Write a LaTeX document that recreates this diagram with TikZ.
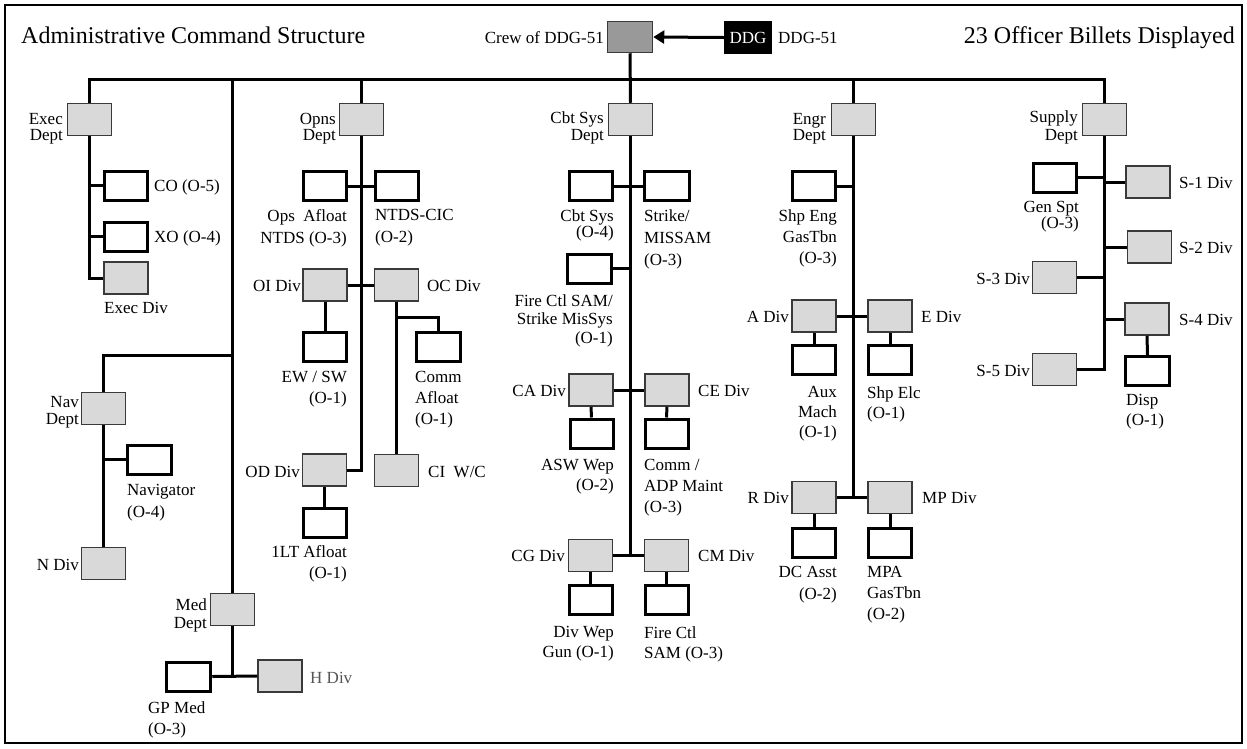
\documentclass[tikz,border=0pt]{standalone}
\usepackage{fontspec}
\setmainfont{Liberation Serif}
\usetikzlibrary{arrows.meta}
\definecolor{gfill}{HTML}{D9D9D9}
\definecolor{gedge}{HTML}{3A3A3A}
\definecolor{crewfill}{HTML}{999999}
\definecolor{hgray}{HTML}{555555}
\begin{document}
\begin{tikzpicture}[x=1pt,y=-1pt,
  gbox/.style={draw=gedge,line width=1.5pt,fill=gfill,minimum width=44pt,minimum height=32pt,inner sep=0pt},
  wbox/.style={draw=black,line width=3pt,fill=white,minimum width=43pt,minimum height=29pt,inner sep=0pt},
  conn/.style={line width=3pt,black,line join=miter},
  lbl/.style={inner sep=0pt,font=\fontsize{17}{#1}\selectfont},
  lbl/.default=19,
  big/.style={inner sep=0pt,font=\fontsize{24}{28}\selectfont}
]
\useasboundingbox (0,0) rectangle (1247,748);
\draw[line width=1.5pt] (5,5) rectangle (1242,743);

% titles
\node[big,anchor=base west] (title) at (21,43) {Administrative Command Structure};
\node[big,anchor=base east] (billets) at (1235,43) {23 Officer Billets Displayed};

% top
\node[draw=gedge,line width=1.5pt,fill=crewfill,minimum width=45pt,minimum height=31pt,inner sep=0pt] (crew) at (630,37) {};
\node[fill=black,minimum width=48pt,minimum height=33pt,inner sep=0pt,text=white,font=\fontsize{17}{19}\selectfont] (ddg) at (748,37.5) {DDG};
\node[lbl,anchor=base east] (crewlbl) at (604,43) {Crew of DDG-51};
\node[lbl,anchor=base west] (ddglbl) at (778,43) {DDG-51};

% departments
\node[gbox] (exec) at (89.5,119.5) {};
\node[gbox] (opns) at (361.5,119.5) {};
\node[gbox] (cbt) at (630.5,119.5) {};
\node[gbox] (engr) at (853.5,119.5) {};
\node[gbox] (supply) at (1104.5,119.5) {};
\node[gbox] (nav) at (103.5,408.5) {};
\node[gbox] (med) at (232.5,609.5) {};
\node[lbl=16,align=right,anchor=north east] (execlbl) at (63,113) {Exec\\Dept};
\node[lbl=16,align=right,anchor=north east] (opnslbl) at (336,113) {Opns\\Dept};
\node[lbl=17,align=right,anchor=north east] (cbtlbl) at (604,111) {Cbt Sys\\Dept};
\node[lbl=16,align=right,anchor=north east] (engrlbl) at (826,113) {Engr\\Dept};
\node[lbl=18,align=right,anchor=north east] (supplylbl) at (1078,110) {Supply\\Dept};
\node[lbl=17,align=right,anchor=north east] (navlbl) at (79,396) {Nav\\Dept};
\node[lbl=18,align=right,anchor=north east] (medlbl) at (207,598) {Med\\Dept};

% Exec
\node[wbox] (co) at (125.5,185.5) {};
\node[wbox] (xo) at (125.5,236.5) {};
\node[gbox] (execdiv) at (126,278) {};
\node[lbl,anchor=base west] (colbl) at (154,191) {CO (O-5)};
\node[lbl,anchor=base west] (xolbl) at (154,242) {XO (O-4)};
\node[lbl,anchor=base west] (execdivlbl) at (104,313) {Exec Div};

% Nav
\node[wbox,minimum width=44.5pt] (navigator) at (149.5,459.5) {};
\node[gbox] (ndiv) at (103.5,563.5) {};
\node[lbl=22,align=left,anchor=north west] (navigatorlbl) at (127,484) {Navigator\\(O-4)};
\node[lbl,anchor=base east] (ndivlbl) at (79,570) {N Div};

% Med
\node[wbox,minimum width=44.5pt] (gpmed) at (188.5,676.5) {};
\node[gbox] (hdiv) at (280,676) {};
\node[lbl=21,align=left,anchor=north west] (gpmedlbl) at (148,701) {GP Med\\(O-3)};
\node[lbl,anchor=base west,text=hgray] (hdivlbl) at (310,683) {H Div};

% Opns
\node[wbox] (opsafloat) at (324.5,186) {};
\node[wbox] (ntds) at (396.5,186) {};
\node[gbox] (oidiv) at (325,285) {};
\node[gbox] (ocdiv) at (396.5,285) {};
\node[wbox] (ewsw) at (325,346.5) {};
\node[wbox,minimum width=44.5pt] (commafloat) at (438.5,346.5) {};
\node[gbox] (ciwc) at (396.5,470.5) {};
\node[gbox] (oddiv) at (324.5,470) {};
\node[wbox] (onelt) at (324.5,522.5) {};
\node[lbl=22,align=right,anchor=north east] (opsafloatlbl) at (347,209) {Ops\ \ Afloat\\NTDS (O-3)};
\node[lbl=22,align=left,anchor=north west] (ntdslbl) at (375,209) {NTDS-CIC\\(O-2)};
\node[lbl,anchor=base east] (oidivlbl) at (301,291) {OI Div};
\node[lbl,anchor=base west] (ocdivlbl) at (427,291) {OC Div};
\node[lbl=21,align=right,anchor=north east] (ewswlbl) at (347,371) {EW / SW\\(O-1)};
\node[lbl=21,align=left,anchor=north west] (commafloatlbl) at (415,371) {Comm\\Afloat\\(O-1)};
\node[lbl,anchor=base west] (ciwclbl) at (428,477) {CI\ \ W/C};
\node[lbl,anchor=base east] (oddivlbl) at (300,477) {OD Div};
\node[lbl=21,align=right,anchor=north east] (oneltlbl) at (347,545) {1LT Afloat\\(O-1)};

% Cbt Sys
\node[wbox] (cbtsys) at (591,186) {};
\node[wbox,minimum width=44.5pt] (strike) at (667,186) {};
\node[wbox,minimum width=44pt] (firectl) at (589.5,268.5) {};
\node[gbox] (cadiv) at (591,390) {};
\node[gbox] (cediv) at (667,390) {};
\node[wbox] (aswwep) at (591.5,433.5) {};
\node[wbox] (commadp) at (666.5,433.5) {};
\node[gbox] (cgdiv) at (590.5,555.5) {};
\node[gbox] (cmdiv) at (666.5,555.5) {};
\node[wbox] (divwep) at (590.5,600) {};
\node[wbox] (firesam) at (666.5,600) {};
\node[lbl=15,align=right,anchor=north east] (cbtsyslbl) at (614,209) {Cbt Sys\\(O-4)};
\node[lbl=22,align=left,anchor=north west] (strikelbl) at (644,209) {Strike/\\MISSAM\\(O-3)};
\node[lbl=18.5,align=right,anchor=north east] (firectllbl) at (613,294) {Fire Ctl SAM/\\Strike MisSys\\(O-1)};
\node[lbl,anchor=base east] (cadivlbl) at (566,396) {CA Div};
\node[lbl,anchor=base west] (cedivlbl) at (698,396) {CE Div};
\node[lbl=20,align=right,anchor=north east] (aswweplbl) at (614,459) {ASW Wep\\(O-2)};
\node[lbl=21,align=left,anchor=north west] (commadplbl) at (644,459) {Comm /\\ADP Maint\\(O-3)};
\node[lbl,anchor=base east] (cgdivlbl) at (565,561) {CG Div};
\node[lbl,anchor=base west] (cmdivlbl) at (698,561) {CM Div};
\node[lbl=20,align=right,anchor=north east] (divweplbl) at (614,626) {Div Wep\\Gun (O-1)};
\node[lbl=20,align=left,anchor=north west] (firesamlbl) at (644,626) {Fire Ctl\\SAM (O-3)};

% Engr
\node[wbox] (shpeng) at (814,186) {};
\node[gbox] (adiv) at (814,316) {};
\node[gbox] (ediv) at (890,316) {};
\node[wbox] (auxmach) at (814,359.5) {};
\node[wbox] (shpelc) at (890,359.5) {};
\node[gbox] (rdiv) at (814,497.5) {};
\node[gbox] (mpdiv) at (890,497.5) {};
\node[wbox] (dcasst) at (814,542.5) {};
\node[wbox] (mpa) at (890,542.5) {};
\node[lbl=21,align=right,anchor=north east] (shpenglbl) at (837,209) {Shp Eng\\GasTbn\\(O-3)};
\node[lbl,anchor=base east] (adivlbl) at (789,322) {A Div};
\node[lbl,anchor=base west] (edivlbl) at (921,322) {E Div};
\node[lbl=20,align=right,anchor=north east] (auxmachlbl) at (837,386) {Aux\\Mach\\(O-1)};
\node[lbl=20,align=left,anchor=north west] (shpelclbl) at (867,386) {Shp Elc\\(O-1)};
\node[lbl,anchor=base east] (rdivlbl) at (789,503) {R Div};
\node[lbl,anchor=base west] (mpdivlbl) at (922,503) {MP Div};
\node[lbl=22,align=right,anchor=north east] (dcasstlbl) at (837,566) {DC Asst\\(O-2)};
\node[lbl=21,align=left,anchor=north west] (mpalbl) at (867,566) {MPA\\GasTbn\\(O-2)};

% Supply
\node[wbox] (genspt) at (1055,177.5) {};
\node[gbox] (sone) at (1148,182) {};
\node[gbox] (stwo) at (1149.5,247) {};
\node[gbox] (sthree) at (1054.5,277.5) {};
\node[gbox] (sfour) at (1147,319) {};
\node[wbox,minimum width=44.5pt] (disp) at (1147.5,371) {};
\node[gbox] (sfive) at (1054.5,369.5) {};
\node[lbl=16,align=right,anchor=north east] (gensptlbl) at (1079,201) {Gen Spt\\(O-3)};
\node[lbl,anchor=base west] (sonelbl) at (1179,188) {S-1 Div};
\node[lbl,anchor=base west] (stwolbl) at (1179,253) {S-2 Div};
\node[lbl,anchor=base east] (sthreelbl) at (1030,284) {S-3 Div};
\node[lbl,anchor=base west] (sfourlbl) at (1179,325) {S-4 Div};
\node[lbl=20,align=left,anchor=north west] (displbl) at (1126,394) {Disp\\(O-1)};
\node[lbl,anchor=base east] (sfivelbl) at (1030,376) {S-5 Div};

% connectors
\coordinate (busL) at (89.5,79);
\coordinate (navY) at (0,355);
\coordinate (ocY) at (0,317);
\draw[conn,-{Triangle[length=11pt,width=13pt]}] (ddg.west) -- (crew.east);
\draw[conn] (crew.south) -- (cbt.north);
\draw[conn] (exec.north) -- (exec.north |- busL) -- (supply.north |- busL) -- (supply.north);
\draw[conn] (opns.north) -- (opns.north |- busL);
\draw[conn] (engr.north) -- (engr.north |- busL);
\draw[conn] (med.north) -- (med.north |- busL);
\draw[conn] (med.north |- navY) -| (nav.north);

\draw[conn] (exec.south) -- (exec.south |- execdiv.west) -- (execdiv.west);
\draw[conn] (co.west) -- (co.west -| exec.south);
\draw[conn] (xo.west) -- (xo.west -| exec.south);

\draw[conn] (nav.south) -- (ndiv.north);
\draw[conn] (navigator.west) -- (navigator.west -| nav.south);

\draw[conn] (med.south) -- (med.south |- hdiv.west);
\draw[conn] (gpmed.east) -- (hdiv.west);

\draw[conn] (opns.south) -- (opns.south |- oddiv.east) -- (oddiv.east);
\draw[conn] (opsafloat.east) -- (ntds.west);
\draw[conn] (oidiv.east) -- (ocdiv.west);
\draw[conn] (oidiv.south) -- (ewsw.north);
\draw[conn] (ocdiv.south) -- (ciwc.north);
\draw[conn] (ocdiv.south |- ocY) -| (commafloat.north);
\draw[conn] (oddiv.south) -- (onelt.north);

\draw[conn] (cbt.south) -- (cbt.south |- cgdiv.east);
\draw[conn] (cbtsys.east) -- (strike.west);
\draw[conn] (firectl.east) -- (firectl.east -| cbt.south);
\draw[conn] (cadiv.east) -- (cediv.west);
\draw[conn] (cadiv.south) -- (aswwep.north);
\draw[conn] (cediv.south) -- (commadp.north);
\draw[conn] (cgdiv.east) -- (cmdiv.west);
\draw[conn] (cgdiv.south) -- (divwep.north);
\draw[conn] (cmdiv.south) -- (firesam.north);

\draw[conn] (engr.south) -- (engr.south |- rdiv.east);
\draw[conn] (shpeng.east) -- (shpeng.east -| engr.south);
\draw[conn] (adiv.east) -- (ediv.west);
\draw[conn] (adiv.south) -- (auxmach.north);
\draw[conn] (ediv.south) -- (shpelc.north);
\draw[conn] (rdiv.east) -- (mpdiv.west);
\draw[conn] (rdiv.south) -- (dcasst.north);
\draw[conn] (mpdiv.south) -- (mpa.north);

\draw[conn] (supply.south) -- (supply.south |- sfive.east) -- (sfive.east);
\draw[conn] (genspt.east) -- (genspt.east -| supply.south);
\draw[conn] (sone.west) -- (sone.west -| supply.south);
\draw[conn] (stwo.west) -- (stwo.west -| supply.south);
\draw[conn] (sthree.east) -- (sthree.east -| supply.south);
\draw[conn] (sfour.west) -- (sfour.west -| supply.south);
\draw[conn] (sfour.south) -- (disp.north);
\end{tikzpicture}
\end{document}
